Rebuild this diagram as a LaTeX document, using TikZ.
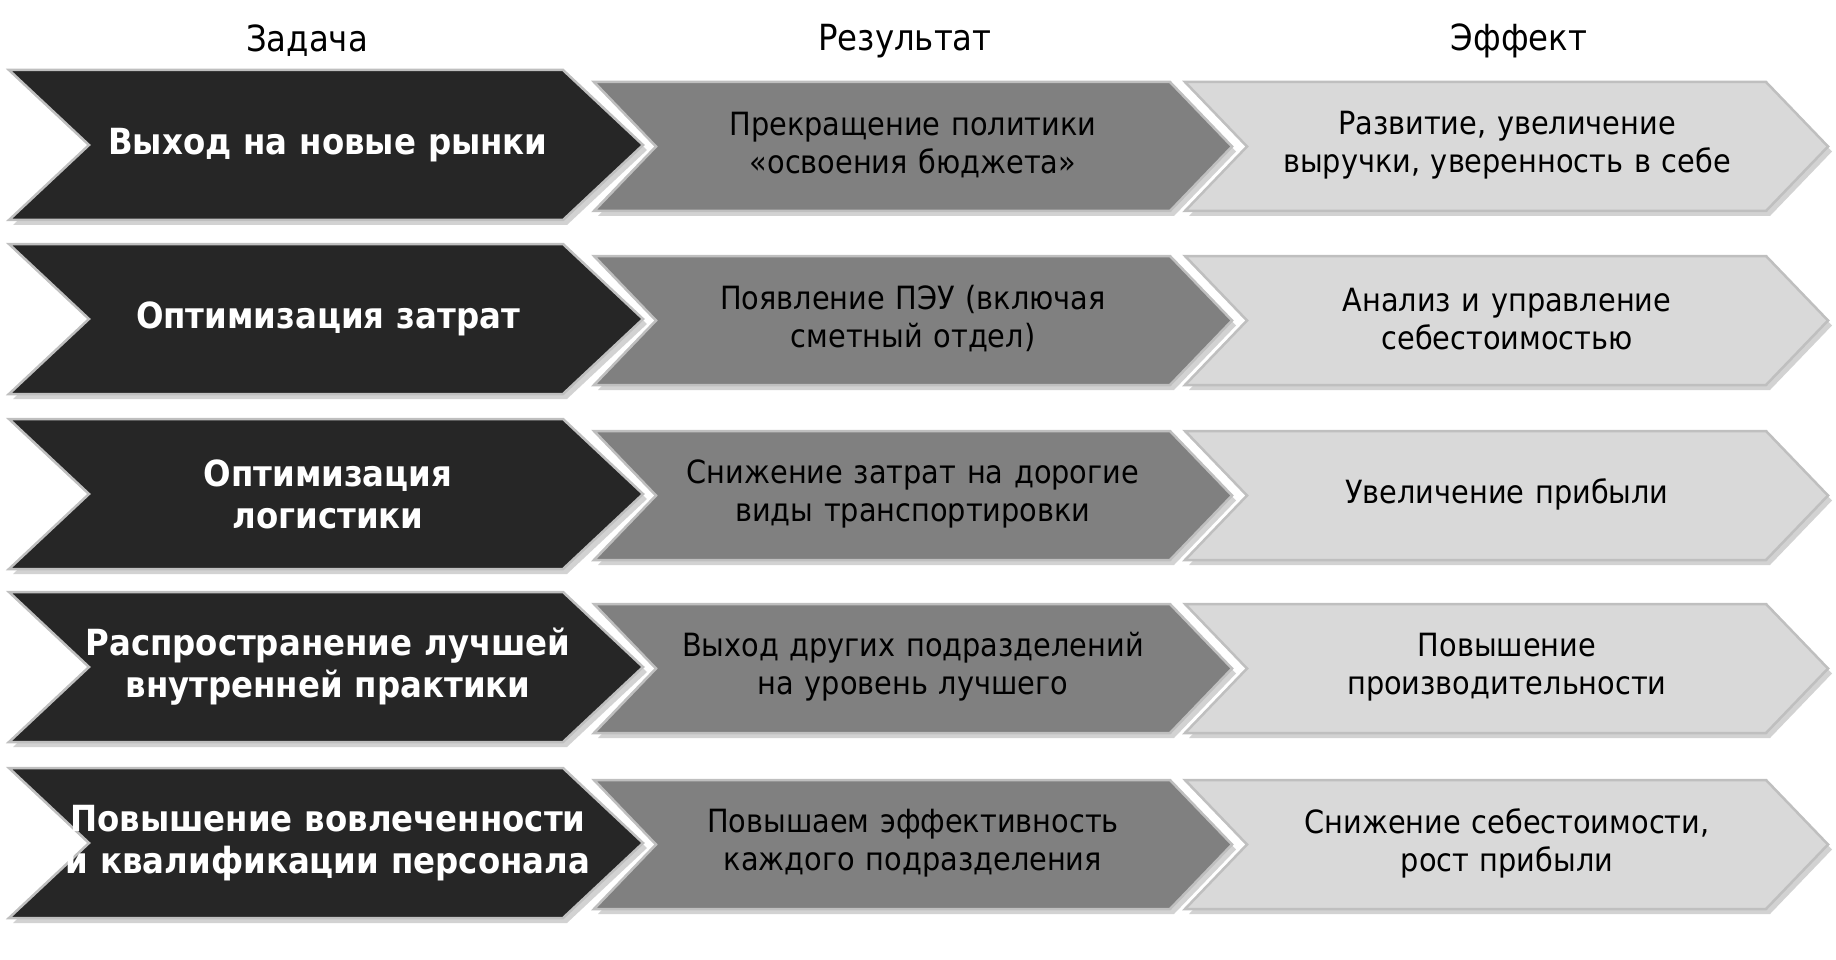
\documentclass[tikz,border=0pt]{standalone}
\usepackage{fontspec}
\setmainfont{DejaVu Sans Condensed}
\definecolor{cA}{HTML}{262626}
\definecolor{cB}{HTML}{808080}
\definecolor{cC}{HTML}{D9D9D9}
\tikzset{
 chev/.style={draw=white!75!black,line width=2.5pt,line join=miter},
 lab/.style={align=center,text width=#1,font=\fontsize{32}{38}\selectfont},
 hdr/.style={font=\fontsize{36}{40}\selectfont}
}
\newcommand{\chevshape}[6]{% x0 x1 top h d color
 \fill[black!35,opacity=0.5] (#1+4,#3+5) -- (#2-#5+4,#3+5) -- (#2+4,#3+#4/2+5) -- (#2-#5+4,#3+#4+5) -- (#1+4,#3+#4+5) -- (#1+#5+4,#3+#4/2+5) -- cycle;
 \filldraw[chev,fill=#6] (#1,#3) -- (#2-#5,#3) -- (#2,#3+#4/2) -- (#2-#5,#3+#4) -- (#1,#3+#4) -- (#1+#5,#3+#4/2) -- cycle;
}
\begin{document}
\begin{tikzpicture}[x=1pt,y=-1pt]
\useasboundingbox (0,0) rectangle (1836,960);
\node[hdr] (h1) at (307,41) {Задача};
\node[hdr] (h2) at (905,41) {Результат};
\node[hdr] (h3) at (1519,41) {Эффект};
\foreach \t in {70,244,419,592,768}{
 \chevshape{9}{643}{\t}{150}{80}{cA}
 \chevshape{594}{1232}{\t+12}{129}{62}{cB}
 \chevshape{1185}{1828}{\t+12}{129}{62}{cC}
}
\tikzset{bl/.style={lab=560pt,text=white,font=\bfseries\fontsize{36}{42}\selectfont}}
\node[bl] (a1) at (328,145) {Выход на новые рынки};
\node[bl] (a2) at (328,319) {Оптимизация затрат};
\node[bl] (a3) at (328,494) {Оптимизация\\логистики};
\node[bl] (a4) at (328,667) {Распространение лучшей внутренней практики};
\node[bl] (a5) at (328,843) {Повышение вовлеченности и квалификации персонала};
\node[lab=520pt] (b1) at (913,145) {Прекращение политики «освоения бюджета»};
\node[lab=520pt] (b2) at (913,319) {Появление ПЭУ (включая сметный отдел)};
\node[lab=520pt] (b3) at (913,494) {Снижение затрат на дорогие виды транспортировки};
\node[lab=520pt] (b4) at (913,667) {Выход других подразделений на уровень лучшего};
\node[lab=520pt] (b5) at (913,843) {Повышаем эффективность каждого подразделения};
\node[lab=500pt] (c1) at (1507,145) {Развитие, увеличение выручки, уверенность в себе};
\node[lab=500pt] (c2) at (1507,319) {Анализ и управление себестоимостью};
\node[lab=500pt] (c3) at (1507,494) {Увеличение прибыли};
\node[lab=500pt] (c4) at (1507,667) {Повышение производительности};
\node[lab=500pt] (c5) at (1507,843) {Снижение себестоимости, рост прибыли};
\end{tikzpicture}
\end{document}
